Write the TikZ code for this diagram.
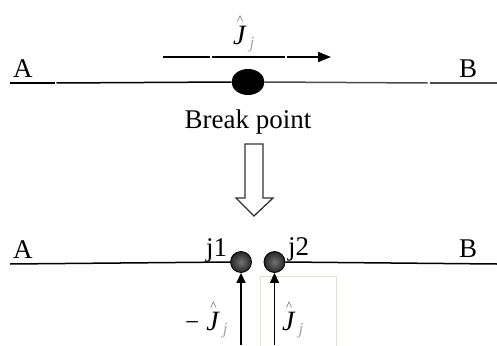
\documentclass[tikz,border=0pt]{standalone}
\usepackage{fontspec}
\setmainfont{Liberation Serif}
\usetikzlibrary{arrows.meta,shapes.geometric}
\newcommand{\Jh}{{\fontsize{28}{28}\selectfont\rlap{\hspace{4pt}\raisebox{20pt}{\fontsize{13}{13}\selectfont\textcolor{black!70}{\textasciicircum}}}\textit{J}\hspace{3pt}\raisebox{-4pt}{\fontsize{17}{17}\selectfont\textcolor{black!35}{\textit{j}}}}}
\begin{document}
\begin{tikzpicture}[x=1pt,y=-1pt,
  lbl/.style={inner sep=0pt,font=\fontsize{27}{27}\selectfont},
  wire/.style={line width=1.5pt},
  tip/.style={-{Triangle[length=13pt,width=10pt]}},
  uptip/.style={line width=1.4pt,-{Triangle[length=10pt,width=9pt]}},
  joint/.style={circle,minimum size=21pt,inner sep=0pt,draw=black,line width=0.8pt,inner color=black!55,outer color=black!85}]
\useasboundingbox (0,0) rectangle (497,345);
% top line
\node[ellipse,fill=black,minimum width=33pt,minimum height=26pt,inner sep=0pt] (bp) at (248,82) {};
\coordinate (t0) at (10,83);
\coordinate (t1) at (54.5,83);
\coordinate (t2) at (56.5,83);
\coordinate (t3) at (427.5,83);
\coordinate (t4) at (429.5,83);
\coordinate (t5) at (497,83);
\draw[wire] (t0) -- (t1);
\draw[wire] (t2) -- (bp.west);
\draw[wire,black!70] (bp.east) -- (t3);
\draw[wire,black!70] (t4) -- (t5);
\node[lbl,anchor=base west] (A1) at (13,77) {A};
\node[lbl,anchor=base west] (B1) at (459,77) {B};
\node[lbl,anchor=base] (brk) at (248,128) {Break point};
% top arrow
\coordinate (a0) at (163,57);
\coordinate (a1) at (210,57);
\coordinate (a2) at (212,57);
\coordinate (a3) at (285,57);
\coordinate (a4) at (287,57);
\coordinate (a5) at (331,57);
\draw[wire] (a0) -- (a1);
\draw[wire] (a2) -- (a3);
\draw[wire,tip] (a4) -- (a5);
\node[inner sep=0pt,anchor=base west] (Jtop) at (233,45) {\Jh};
% hollow arrow
\draw[line width=1.3pt,black!80,line join=miter] (245,144) -- (263,144) -- (263,198) -- (273,198) -- (254,216) -- (236,198) -- (245,198) -- cycle;
% bottom line
\coordinate (b0) at (10,264);
\coordinate (b5) at (497,264);
\node[joint] (j1) at (241,262) {};
\node[joint] (j2) at (274.5,262) {};
\draw[wire] (b0) -- (j1.west);
\draw[wire] (j2.east) -- (b5);
\node[lbl,anchor=base west] (A2) at (13,258) {A};
\node[lbl,anchor=base west] (B2) at (459,257) {B};
\node[lbl,anchor=base west] (j1l) at (206,256) {j1};
\node[lbl,anchor=base west] (j2l) at (288,255) {j2};
% faint box
\draw[line width=0.8pt,color={rgb,255:red,228;green,224;blue,212}] (260,346) -- (260,276) -- (336,276) -- (336,346);
% up arrows
\coordinate (u1) at (241,345);
\coordinate (u2) at (274.5,345);
\draw[uptip] (u1) -- (j1.south);
\draw[uptip] (u2) -- (j2.south);
\node[inner sep=0pt,anchor=base west] (Jm) at (185,330) {\fontsize{25}{25}\selectfont −\hspace{7pt}\Jh};
\node[inner sep=0pt,anchor=base west] (Jp) at (282,330) {\Jh};
\end{tikzpicture}
\end{document}
